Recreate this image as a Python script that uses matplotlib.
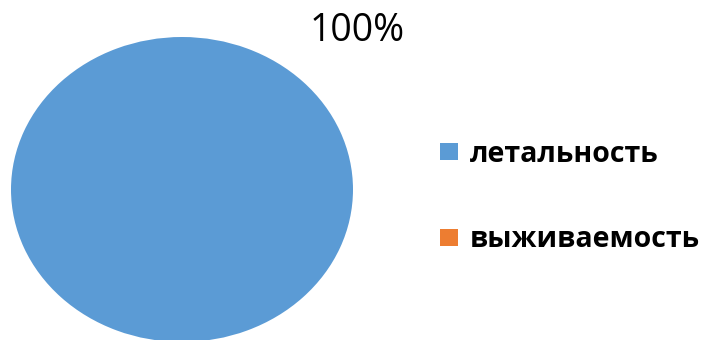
import matplotlib
matplotlib.use("Agg")
import matplotlib.pyplot as plt
from matplotlib.patches import Patch

categories = ["летальность", "выживаемость"]
values = [100, 0]
colors = ["#5B9BD5", "#ED7D31"]

W, H = 703, 340
fig = plt.figure(figsize=(W / 100, H / 100), dpi=100)
fig.patch.set_facecolor("white")

# pie area (stretched into an ellipse, as in the original layout)
ax = fig.add_axes([11 / W, (H - 342) / H, 342 / W, 305 / H])
ax.pie(values, colors=colors, startangle=90, counterclock=False, radius=1.0,
       wedgeprops=dict(linewidth=0))
ax.set_aspect("auto")
ax.set_xlim(-1, 1)
ax.set_ylim(-1, 1)
ax.axis("off")

total = sum(values)
pct = values[0] / total * 100
fig.text(357 / W, 1 - 31 / H, f"{pct:.0f}%", ha="center", va="center",
         fontsize=27, family=["Open Sans", "DejaVu Sans"], color="#000000")

handles = [Patch(facecolor=c, edgecolor="none") for c in colors]
leg = fig.legend(handles, categories, loc="center left",
                 bbox_to_anchor=(429 / W, 1 - 197 / H), frameon=False,
                 prop=dict(family=["Open Sans", "DejaVu Sans"], weight="bold", size=20.5),
                 handlelength=0.63, handleheight=0.57, handletextpad=0.4,
                 labelspacing=2.0, borderaxespad=0)

fig.savefig("out.png", dpi=100, facecolor="white")
